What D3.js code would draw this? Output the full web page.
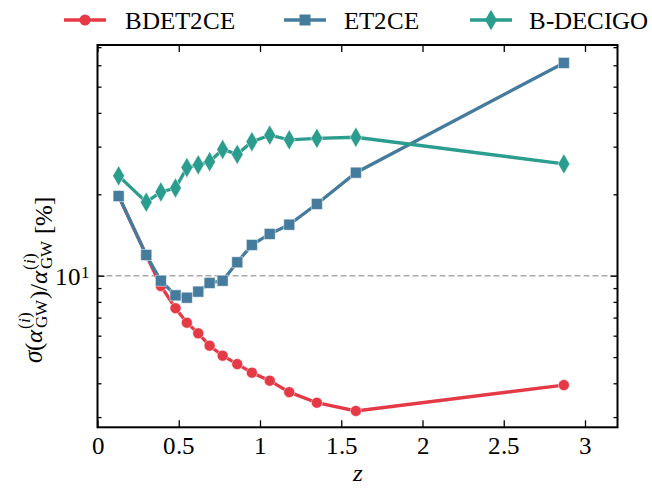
<!DOCTYPE html>
<html>
<head>
<meta charset="utf-8">
<script src="https://cdn.jsdelivr.net/npm/d3@7"></script>
<style>
  @font-face { font-family: "ChartSerif"; src: local("Liberation Serif"), local("LiberationSerif"); font-style: normal; }
  @font-face { font-family: "ChartSerif"; src: local("Liberation Serif Italic"), local("LiberationSerif-Italic"); font-style: italic; }
  body { margin: 0; background: #fff; font-family: "ChartSerif", "Liberation Serif", serif; }
  #chart svg text, #chart svg tspan { font-family: "ChartSerif", "Liberation Serif", serif !important; }
  #chart svg .it { font-style: italic !important; }
</style>
</head>
<body>
<div id="chart"></div>
<script>
// redshift values (shared by all three detector networks)
const z = [0.13, 0.30, 0.39, 0.48, 0.55, 0.62, 0.69, 0.77, 0.86, 0.95, 1.06, 1.18, 1.35, 1.59, 2.87];

// relative error in percent
const bdet2ce = [19.7, 11.9, 9.16, 7.58, 6.70, 6.12, 5.51, 5.06, 4.71, 4.38, 4.09, 3.71, 3.39, 3.16, 3.94];
const et2ce = [19.7, 11.93, 9.58, 8.46, 8.29, 8.73, 9.40, 9.58, 11.21, 12.99, 14.27, 15.44, 18.42, 24.04, 61.2];
const bdecigo = [23.4, 18.7, 20.4, 21.1, 25.1, 25.7, 26.4, 29.3, 28.1, 31.3, 33.1, 31.8, 32.2, 32.5, 25.9];

const seriesNames = ["BDET2CE", "ET2CE", "B-DECIGO"];
const xTicks = [0, 0.5, 1, 1.5, 2, 2.5, 3];
const yMajor = [10];
const yMinor = [3, 4, 5, 6, 7, 8, 9, 20, 30, 40, 50, 60, 70];
const refLine = 10;

const W = 652, H = 489;
const plot = { left: 97.5, right: 617.5, top: 45, bottom: 427.3 };
const FONT = "Liberation Serif";
const fontSize = 25;

const svg = d3.select("#chart").append("svg")
    .attr("width", W)
    .attr("height", H)
    .attr("font-family", FONT);

const x = d3.scaleLinear().domain([0, 3.2]).range([plot.left, plot.right]);
const y = d3.scaleLog().domain([2.75, 71.3]).range([plot.bottom, plot.top]);

const colors = ["#e63946", "#457b9d", "#2a9d8f"];
const symbols = [d3.symbolCircle, d3.symbolSquare, d3.symbolDiamond];
const symSizes = [95, 121, 120];

// dashed reference line at 10%
svg.append("line")
    .attr("x1", plot.left).attr("x2", plot.right)
    .attr("y1", y(refLine)).attr("y2", y(refLine))
    .attr("stroke", "#aaaaaa")
    .attr("stroke-width", 1.6)
    .attr("stroke-dasharray", "6,3");

// series
const allSeries = [bdet2ce, et2ce, bdecigo];
const line = d3.line().x(d => x(d[0])).y(d => y(d[1]));

allSeries.forEach((vals, i) => {
    const pts = z.map((zz, j) => [zz, vals[j]]);
    svg.append("path")
        .datum(pts)
        .attr("d", line)
        .attr("fill", "none")
        .attr("stroke", colors[i])
        .attr("stroke-width", 3.3);
    svg.selectAll(".m" + i)
        .data(pts)
        .enter().append("path")
        .attr("class", "m" + i)
        .attr("transform", d => `translate(${x(d[0])},${y(d[1])})`)
        .attr("d", d3.symbol().type(symbols[i]).size(symSizes[i]))
        .attr("fill", colors[i])
        .attr("stroke", "#fff")
        .attr("stroke-width", 0.5);
});

// axes, ticks pointing inward on all sides
const xAxis = svg.append("g")
    .attr("transform", `translate(0,${plot.bottom})`)
    .call(d3.axisBottom(x).tickValues(xTicks).tickSize(-7).tickPadding(9)
        .tickFormat(d => d3.format("")(d)));
svg.append("g")
    .attr("transform", `translate(0,${plot.top})`)
    .call(d3.axisTop(x).tickValues(xTicks).tickSize(-7).tickFormat(""));

const yAxis = svg.append("g")
    .attr("transform", `translate(${plot.left},0)`)
    .call(d3.axisLeft(y).tickValues(yMajor).tickSize(-7).tickPadding(8).tickFormat(() => ""));
svg.append("g")
    .attr("transform", `translate(${plot.left},0)`)
    .call(d3.axisLeft(y).tickValues(yMinor).tickSize(-4).tickFormat(""));
svg.append("g")
    .attr("transform", `translate(${plot.right},0)`)
    .call(d3.axisRight(y).tickValues(yMajor).tickSize(-7).tickFormat(""));
svg.append("g")
    .attr("transform", `translate(${plot.right},0)`)
    .call(d3.axisRight(y).tickValues(yMinor).tickSize(-4).tickFormat(""));

svg.selectAll(".domain").remove();
svg.selectAll(".tick line").attr("stroke", "#000").attr("stroke-width", 1.3);
svg.selectAll("g").attr("font-family", FONT);

xAxis.attr("font-size", fontSize);
xAxis.selectAll("text").attr("fill", "#000").attr("font-family", FONT);

// 10^1 label
yAxis.attr("font-size", fontSize);
yAxis.selectAll(".tick text")
    .attr("fill", "#000")
    .attr("font-family", FONT)
    .attr("dy", "0.36em")
    .text("10")
    .append("tspan")
    .attr("dy", "-0.45em")
    .attr("font-size", 17)
    .text("1");

// frame
svg.append("rect")
    .attr("x", plot.left).attr("y", plot.top)
    .attr("width", plot.right - plot.left)
    .attr("height", plot.bottom - plot.top)
    .attr("fill", "none")
    .attr("stroke", "#000")
    .attr("stroke-width", 2);

// x label
svg.append("text")
    .attr("class", "it")
    .attr("x", (plot.left + plot.right) / 2)
    .attr("y", 481)
    .attr("text-anchor", "middle")
    .attr("font-family", FONT)
    .attr("font-size", fontSize)
    .attr("font-style", "italic")
    .text("z");

// y label: sigma(alpha_GW^(i))/alpha_GW^(i) [%], sup stacked over sub
const ylab = svg.append("text")
    .attr("transform", "translate(42,280) rotate(-90)")
    .attr("text-anchor", "middle")
    .attr("font-family", FONT)
    .attr("font-size", fontSize);
function addPart(str, opts) {
    const t = ylab.append("tspan").text(str);
    if (opts && opts.italic) t.attr("class", "it").attr("font-style", "italic");
    if (opts && opts.size) t.attr("font-size", opts.size);
    if (opts && opts.dx) t.attr("dx", opts.dx);
    if (opts && opts.dy) t.attr("dy", opts.dy);
    return t;
}
function supSub() {
    addPart("(", { size: 17, dy: -12, dx: 1 });
    addPart("i", { size: 17, italic: true });
    addPart(")", { size: 17 });
    addPart("GW", { size: 17, dx: -16, dy: 17 });
    addPart("", { dy: -5 });
}
addPart("σ", { italic: true });
addPart("(");
addPart("α", { italic: true });
supSub();
addPart(")/", { dx: 1 });
addPart("α", { italic: true });
supSub();
addPart("\u00a0[%]", { dx: 1 });

// legend
const legend = [
    { x0: 64, text: 125 },
    { x0: 284, text: 344 },
    { x0: 470, text: 529 }
];
legend.forEach((d, i) => {
    const g = svg.append("g");
    g.append("line")
        .attr("x1", d.x0).attr("x2", d.x0 + 42)
        .attr("y1", 20).attr("y2", 20)
        .attr("stroke", colors[i]).attr("stroke-width", 3.3);
    g.append("path")
        .attr("transform", `translate(${d.x0 + 21},20)`)
        .attr("d", d3.symbol().type(symbols[i]).size(symSizes[i]))
        .attr("fill", colors[i]);
    g.append("text")
        .attr("x", d.text).attr("y", 29)
        .attr("font-family", FONT)
        .attr("font-size", fontSize)
        .text(seriesNames[i]);
});
</script>
</body>
</html>
